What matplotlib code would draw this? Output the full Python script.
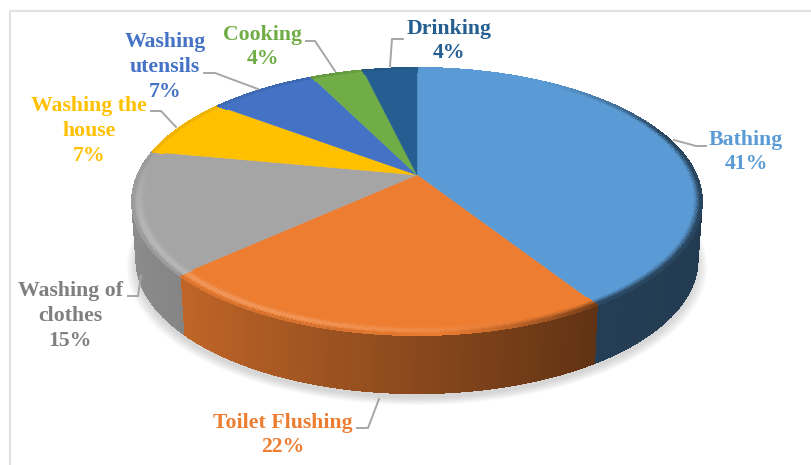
import numpy as np
import matplotlib
matplotlib.use("Agg")
import matplotlib.pyplot as plt
from matplotlib.collections import PolyCollection
from matplotlib.colors import to_rgb

# ---- data ----
categories = ["Bathing", "Toilet Flushing", "Washing of\nclothes", "Washing the\nhouse",
              "Washing\nutensils", "Cooking", "Drinking"]
values = [41.0, 22.2, 14.8, 7.3, 7.4, 3.6, 3.7]
face_colors = ["#5b9bd5", "#ed7d31", "#a5a5a5", "#ffc000", "#4472c4", "#70ad47", "#255e91"]
text_colors = ["#5b9bd5", "#ed7d31", "#7f7f7f", "#ffc000", "#4472c4", "#70ad47", "#255e91"]
label_xy = [(746, 152), (283, 435), (70, 316), (89, 131), (165, 67), (263, 47), (449, 41)]
leaders = [
    [(706, 146), (696, 146), (674, 140)],
    [(357, 428), (368, 428), (379, 399)],
    [(128, 296), (138, 296), (141, 276)],
    [(151, 111), (161, 111), (176, 127)],
    [(204, 73), (215, 73), (258, 89)],
    [(306, 41), (315, 41), (335, 71)],
    [(403, 39), (392, 39), (390, 66)],
]

# ---- perspective disc model (pixel space) ----
CX, CY, PA, PB, PC = 417.0, 175.0, 128.2, -0.1985, 279.0
DEPTH = 58.0


def project(theta, r=1.0, z=0.0):
    u, v = r * np.sin(theta), r * np.cos(theta + np.pi)
    den = 1 + PB * v
    shrink = 1 - 0.015 * (z / DEPTH)
    return CX + PC * u / den * shrink, CY + PA * v / den + z


def rim_factor(u):
    return np.interp(u, [-1, -.7, 0, .55, 1], [.85, .8, .58, .4, .38])


fig = plt.figure(figsize=(8.11, 4.65), dpi=100, facecolor="white")
ax = fig.add_axes([0, 0, 1, 1])
ax.set_xlim(0, 811)
ax.set_ylim(465, 0)
ax.axis("off")

# frame
ax.plot([10, 10, 811], [465, 11, 11], color="#e2e2e2", lw=1.5, zorder=0)

# soft shadow
full = np.linspace(0, 2 * np.pi, 300)
for s in np.linspace(1.035, 1.0, 9):
    sx, sy = project(full, 1.0, DEPTH)
    px = CX + (sx - CX) * s
    py = CY + 20 + (sy + 5 - CY - 20) * s
    ax.fill(px, py, color="#8c8c8c", alpha=0.045, lw=0, zorder=1)

fractions = np.array(values, dtype=float) / sum(values)
edges = np.concatenate([[0], np.cumsum(fractions)]) * 2 * np.pi

# rim
rim_polys, rim_cols = [], []
for i, col in enumerate(face_colors):
    base = np.array(to_rgb(col))
    steps = max(3, int(values[i] * 5))
    t = np.linspace(edges[i], edges[i + 1], steps + 1)
    for a, b in zip(t[:-1], t[1:]):
        m = (a + b) / 2
        if np.cos(m + np.pi) < -0.35:
            continue
        x0, y0 = project(np.array([a, b]), 1.0, 0.0)
        x1, y1 = project(np.array([a, b]), 1.0, DEPTH)
        rim_polys.append([(x0[0], y0[0]), (x0[1], y0[1]), (x1[1], y1[1]), (x1[0], y1[0])])
        rim_cols.append(base * rim_factor(np.sin(m)))
ax.add_collection(PolyCollection(rim_polys, facecolors=rim_cols, edgecolors=rim_cols, linewidths=1.0,
                                 antialiaseds=False, zorder=2))

# top face
for i, col in enumerate(face_colors):
    t = np.linspace(edges[i], edges[i + 1], 120)
    x, y = project(t)
    ax.fill(np.r_[CX, x], np.r_[CY, y], color=col, ec=col, lw=0.3, zorder=3)

# bevel along the front of the top face
rings = np.linspace(0.955, 1.0, 10)
bev_polys, bev_cols = [], []
for i, col in enumerate(face_colors):
    base = np.array(to_rgb(col))
    steps = max(3, int(values[i] * 5))
    t = np.linspace(edges[i], edges[i + 1], steps + 1)
    for a, b in zip(t[:-1], t[1:]):
        m = (a + b) / 2
        u, v = np.sin(m), np.cos(m + np.pi)
        for r0, r1 in zip(rings[:-1], rings[1:]):
            p = ((r0 + r1) / 2 - rings[0]) / (rings[-1] - rings[0])
            hl = np.clip((0.35 - u) / 0.7, 0, 1) * np.clip((v + 0.1) / 0.5, 0, 1) * np.sin(np.pi * p ** 1.3) ** 2 * 0.2
            dk = np.clip((u - 0.05) / 0.5, 0, 1) * np.clip((v + 0.85) / 0.5, 0, 1) * np.clip((p - 0.45) / 0.55, 0, 1) ** 1.1
            lf = np.clip((0.1 - u) / 0.5, 0, 1) * np.clip((p - 0.8) / 0.2, 0, 1) * 0.5
            c = base + (1 - base) * hl
            c = c + (base * rim_factor(u) - c) * max(dk, lf)
            x0, y0 = project(np.array([a, b]), r0)
            x1, y1 = project(np.array([a, b]), r1)
            bev_polys.append([(x0[0], y0[0]), (x0[1], y0[1]), (x1[1], y1[1]), (x1[0], y1[0])])
            bev_cols.append(c)
ax.add_collection(PolyCollection(bev_polys, facecolors=bev_cols, edgecolors=bev_cols, linewidths=0.8,
                                 antialiaseds=False, zorder=4))

# leaders and labels
for pts in leaders:
    ax.plot(*zip(*pts), color="#a6a6a6", lw=1.4, zorder=5, solid_joinstyle="miter")

for name, val, col, (lx, ly) in zip(categories, values, text_colors, label_xy):
    ax.text(lx, ly, f"{name}\n{val:.0f}%", color=col, ha="center", va="center", multialignment="center",
            family="Liberation Serif", fontweight="bold", fontsize=15.7, linespacing=1.32, zorder=6)

fig.savefig("out.png", dpi=100, facecolor="white")
